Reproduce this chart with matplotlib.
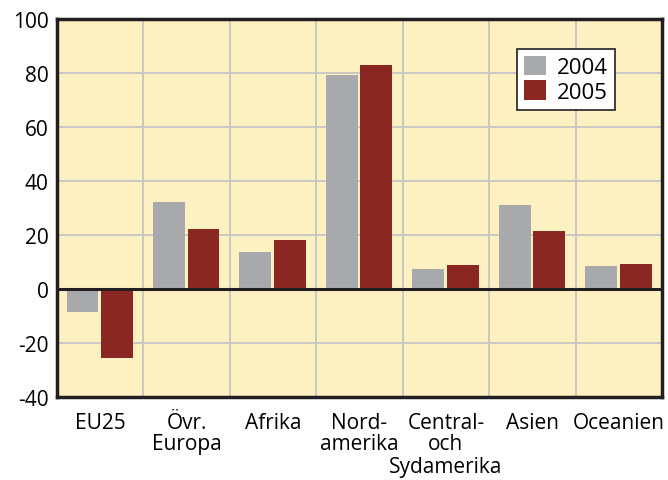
import numpy as np
import matplotlib.pyplot as plt
from matplotlib.transforms import blended_transform_factory

# Regions and values
regions = ["EU25", "Övr.\nEuropa", "Afrika", "Nord-\namerika",
           "Central-\noch", "Asien", "Oceanien"]
extra_line = "Sydamerika"  # third line of the Central label
v2004 = [-8.4, 32.2, 13.7, 79.3, 7.4, 31.1, 8.5]
v2005 = [-25.4, 22.2, 18.1, 83.0, 8.9, 21.5, 9.3]

plt.rcParams['font.family'] = ['Open Sans', 'DejaVu Sans']
plt.rcParams['axes.unicode_minus'] = False

fig = plt.figure(figsize=(6.68, 4.81), dpi=100)
ax = fig.add_axes([57 / 668, 1 - 398 / 481, 605 / 668, 378 / 481])
ax.set_facecolor('#fdf1c2')

x = np.arange(len(regions))
w = 0.37
ax.bar(x - 0.205, v2004, w, color='#a8a9ac', label='2004', zorder=3)
ax.bar(x + 0.195, v2005, w, color='#8b2723', label='2005', zorder=3)

ax.set_xlim(-0.5, len(regions) - 0.5)
ax.set_ylim(-40, 100)
ax.set_yticks(range(-40, 101, 20))

# grid: horizontal at ticks, vertical between categories
for y in range(-20, 100, 20):
    ax.axhline(y, color='#c4c4c4', lw=1.3, zorder=1)
for b in x[:-1] + 0.5:
    ax.axvline(b, color='#c4c4c4', lw=1.3, zorder=1)
ax.axhline(0, color='#231f20', lw=2.2, zorder=4)

ax.set_xticks(x)
ax.set_xticklabels(regions, fontsize=15, linespacing=1.0)
ax.tick_params(axis='x', length=0, pad=11)
ax.tick_params(axis='y', length=0, pad=6, labelsize=15)
trans = blended_transform_factory(ax.transData, fig.transFigure)
ax.text(x[4], 3 / 481, extra_line, transform=trans, fontsize=15,
        ha='center', va='bottom')
for s in ax.spines.values():
    s.set_color('#231f20')
    s.set_linewidth(2.5)
    s.set_zorder(5)

leg = ax.legend(loc='upper right', bbox_to_anchor=(0.922, 0.921), fontsize=16,
                fancybox=False, framealpha=1, edgecolor='#231f20',
                handlelength=1.0, handleheight=1.0, handletextpad=0.5,
                labelspacing=0.1, borderpad=0.3, borderaxespad=0)
leg.get_frame().set_linewidth(1.2)

fig.savefig('out.png', dpi=100)
